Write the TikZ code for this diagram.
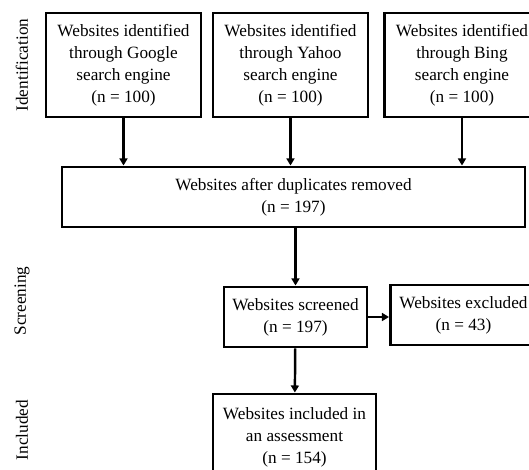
\documentclass[tikz,border=0pt]{standalone}
\usepackage{fontspec}
\setmainfont{Liberation Serif}
\usetikzlibrary{arrows.meta}

\begin{document}
\begin{tikzpicture}[x=0.02cm,y=-0.02cm,
  flowbox/.style={draw,line width=1.7pt,align=center,inner sep=0pt,
    font=\fontsize{9.8}{12.6}\selectfont},
  sidelabel/.style={rotate=90,font=\fontsize{9.8}{12}\selectfont},
  flowarrow/.style={-{Triangle[length=4pt,width=4.5pt]},line width=1.4pt}]
\def \px{0.02cm}
\useasboundingbox (0,0) rectangle (529,470);

% stage labels
\node[sidelabel] (identlabel) at (22,65) {Identification};
\node[sidelabel] (screenlabel) at (22,301) {Screening};
\node[sidelabel] (inclabel) at (22,430) {Included};

% three search engines
\foreach \eng/\xc in {Google/123.5,Yahoo/290.5,Bing/462}{
\node[flowbox,minimum width=155*\px,minimum height=104*\px] (\eng) at (\xc,65)
  {Websites identified\\through \eng\\search engine\\(n = 100)};
}

\node[flowbox,minimum width=463*\px,minimum height=60*\px] (dup) at (293.5,197)
  {Websites after duplicates removed\\(n = 197)};
\node[flowbox,minimum width=143*\px,minimum height=60*\px] (screen) at (295.5,317)
  {Websites screened\\(n = 197)};
\node[flowbox,minimum width=146*\px,minimum height=60*\px] (excl) at (463.5,315)
  {Websites excluded\\(n = 43)};
\node[flowbox,minimum width=163*\px,minimum height=86*\px] (incl) at (294.5,437)
  {Websites included in\\an assessment\\(n = 154)};

\foreach \eng in {Google,Yahoo,Bing}
  \draw[flowarrow] (\eng) -- (\eng |- dup.north);
\draw[flowarrow] (screen |- dup.south) -- (screen);
\draw[flowarrow] (screen.east) -- (screen.east -| excl.west);
\draw[flowarrow] (screen) -- (incl);

\end{tikzpicture}
\end{document}
